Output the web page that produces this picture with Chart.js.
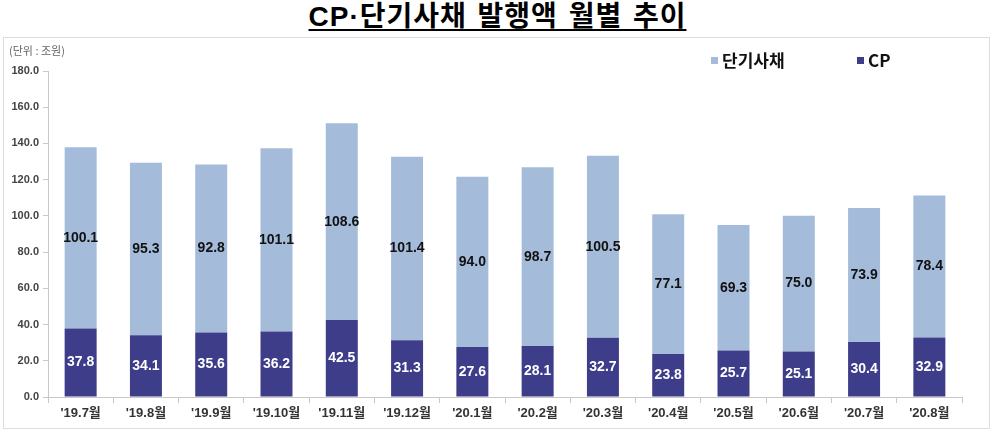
<!DOCTYPE html>
<html><head><meta charset="utf-8">
<script src="https://cdn.jsdelivr.net/npm/chart.js@4.4.1/dist/chart.umd.min.js"></script>
<style>
html,body{margin:0;padding:0;background:#fff;width:995px;height:436px;overflow:hidden;}
#title{position:absolute;left:0;top:0;width:995px;height:37px;text-align:center;font-family:"Liberation Sans","Noto Sans CJK KR",sans-serif;font-weight:700;font-size:28px;line-height:34px;color:#000;letter-spacing:1px;word-spacing:2px;}
#title span{text-decoration:underline;text-decoration-thickness:2px;text-underline-offset:3px;}
#box{position:absolute;left:3px;top:37px;width:985px;height:390px;border:1px solid #ddd;}
</style></head>
<body>
<div id="title"><span>CP·단기사채 발행액 월별 추이</span></div>
<div id="box"><canvas id="c" width="985" height="390"></canvas></div>
<script>
const categories = ["'19.7월","'19.8월","'19.9월","'19.10월","'19.11월","'19.12월","'20.1월","'20.2월","'20.3월","'20.4월","'20.5월","'20.6월","'20.7월","'20.8월"];
const cpValues = [37.8,34.1,35.6,36.2,42.5,31.3,27.6,28.1,32.7,23.8,25.7,25.1,30.4,32.9];
const stbValues = [100.1,95.3,92.8,101.1,108.6,101.4,94.0,98.7,100.5,77.1,69.3,75.0,73.9,78.4];
const yTicks = [0,20,40,60,80,100,120,140,160,180];
const unitLabel = "(단위 : 조원)";

const FONT = '"Liberation Sans","Noto Sans CJK KR",Arial,sans-serif';

const labelPlugin = {
  id:'labels',
  afterDatasetsDraw(chart){
    const ctx = chart.ctx;
    ctx.save();
    ctx.font = 'bold 14px ' + FONT;
    ctx.textAlign = 'center';
    ctx.textBaseline = 'middle';
    chart.data.datasets.forEach((ds,i)=>{
      const meta = chart.getDatasetMeta(i);
      meta.data.forEach((el,j)=>{
        const v = ds.data[j];
        ctx.fillStyle = ds.labelColor;
        ctx.fillText(v.toFixed(1), el.x, (el.y + el.base)/2);
      });
    });
    ctx.restore();
  }
};

const extrasPlugin = {
  id:'extras',
  afterDraw(chart){
    const ctx = chart.ctx;
    ctx.save();
    ctx.font = '11px "Noto Sans CJK KR",' + FONT;
    ctx.fillStyle = '#666';
    ctx.textAlign = 'left';
    ctx.textBaseline = 'middle';
    ctx.fillText(unitLabel, 5, 13);
    const items = [chart.data.datasets[1], chart.data.datasets[0]];
    const xs = [707, 853];
    ctx.font = 'bold 17px "Noto Sans CJK KR",' + FONT;
    items.forEach((ds,k)=>{
      ctx.fillStyle = ds.backgroundColor;
      ctx.fillRect(xs[k], 19, 7, 7);
      ctx.fillStyle = '#111';
      ctx.fillText(ds.label, xs[k] + 11, 23);
    });
    ctx.restore();
  }
};

new Chart(document.getElementById('c'), {
  type:'bar',
  data:{
    labels:categories,
    datasets:[
      {label:'CP', data:cpValues, backgroundColor:'#3e3d8a', labelColor:'#ffffff', barPercentage:0.49, categoryPercentage:1.0},
      {label:'단기사채', data:stbValues, backgroundColor:'#a4bbda', labelColor:'#111111', barPercentage:0.49, categoryPercentage:1.0}
    ]
  },
  options:{
    responsive:false,
    animation:false,
    devicePixelRatio:1,
    layout:{padding:{top:33,right:27,left:0,bottom:0}},
    plugins:{legend:{display:false},tooltip:{enabled:false},title:{display:false}},
    scales:{
      x:{
        stacked:true,
        grid:{drawOnChartArea:false,drawTicks:true,tickLength:6,color:'#c8c8c8',offset:true},
        border:{color:'#c8c8c8'},
        ticks:{font:{family:FONT,size:13,weight:'bold'},color:'#333',padding:3,maxRotation:0,autoSkip:false},
        afterFit(s){ s.height = 31; }
      },
      y:{
        stacked:true,
        min:0,max:180,
        afterBuildTicks(s){ s.ticks = yTicks.map(v=>({value:v})); },
        grid:{drawOnChartArea:false,drawTicks:true,tickLength:5,color:'#c8c8c8'},
        border:{color:'#c8c8c8'},
        ticks:{font:{family:FONT,size:11,weight:'bold'},color:'#444',padding:4,callback:v=>Number(v).toFixed(1)},
        afterFit(s){ s.width = 44; }
      }
    }
  },
  plugins:[labelPlugin, extrasPlugin]
});
</script>
</body></html>
